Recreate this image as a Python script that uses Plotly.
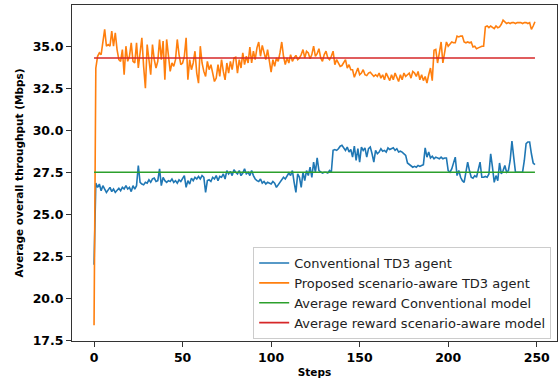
import plotly.graph_objects as go

steps = list(range(250))

conventional = [
    22.0, 26.85, 26.6, 26.8, 26.4, 26.7, 26.5, 26.3, 26.45, 26.6,
    26.35, 26.5, 26.3, 26.45, 26.55, 26.4, 26.6, 26.5, 26.7, 26.5,
    26.6, 26.35, 26.7, 26.5, 26.7, 27.9, 26.9, 26.8, 26.75, 26.9,
    26.85, 27.05, 26.9, 27.1, 27.15, 26.95, 27.0, 27.7, 26.7, 27.2,
    27.0, 26.9, 27.0, 26.95, 27.1, 26.9, 27.0, 26.85, 27.05, 26.95,
    27.1, 27.3, 26.6, 27.0, 26.8, 27.15, 27.0, 27.2, 27.1, 27.25,
    27.1, 27.3, 27.2, 26.3, 27.0, 27.05, 26.95, 27.2, 27.1, 27.3,
    27.0, 27.25, 27.2, 27.4, 27.1, 27.6, 27.4, 27.55, 27.3, 27.65,
    27.5, 27.4, 27.6, 27.3, 27.45, 27.7, 27.4, 27.5, 27.3, 27.6,
    27.3, 27.1, 27.0, 26.95, 27.1, 26.85, 26.95, 26.8, 26.9, 26.85,
    26.8, 26.95, 26.85, 26.6, 26.75, 26.9, 27.05, 27.2, 27.1, 27.3,
    27.45, 27.3, 27.6, 26.9, 26.3, 27.4, 27.2, 26.6, 27.5, 27.0,
    27.6, 27.3, 27.8, 27.2, 28.1, 27.5, 28.35, 27.6, 27.5, 27.45,
    27.5, 27.5, 27.45, 27.6, 27.5, 28.8, 28.85, 28.8, 28.9, 29.05,
    29.1, 28.95, 28.8, 29.0, 28.7, 28.85, 28.4, 29.05, 28.2, 28.9,
    28.1, 29.0, 28.8, 28.95, 28.4, 28.9, 29.0, 28.6, 28.1, 28.8,
    28.6, 28.7, 28.9, 28.75, 28.8, 28.7, 28.95, 28.85, 28.9, 28.95,
    28.8, 28.9, 28.7, 28.75, 28.7, 28.6, 28.5, 28.05, 27.95, 27.85,
    27.8, 27.85, 27.8, 27.9, 27.85, 27.9, 27.95, 28.95, 28.4, 28.7,
    28.35, 28.45, 28.3, 28.4, 28.35, 28.3, 28.4, 28.3, 28.35, 28.35,
    27.6, 27.5, 27.7, 28.0, 28.4, 27.3, 27.6, 27.2, 27.0, 26.9,
    27.4, 28.1, 27.6, 27.2, 27.15, 27.3, 27.2, 27.6, 28.1, 27.2,
    27.2, 27.25, 27.2, 27.4, 28.6, 27.8, 26.9, 27.3, 27.0, 28.05,
    27.4, 27.6, 27.9, 27.5, 27.6, 28.2, 29.35, 28.4, 27.5, 27.5,
    27.5, 27.5, 27.5, 28.2, 29.2, 29.3, 29.3, 28.6, 28.05, 27.95,
]

proposed = [
    18.4, 33.7, 34.4, 34.6, 34.5, 35.2, 36.0, 35.0, 35.1, 35.0,
    35.9, 35.0, 35.8, 34.8, 34.2, 34.1, 34.8, 33.3, 35.0, 34.1,
    34.4, 35.2, 34.1, 34.0, 35.2, 33.7, 34.6, 35.5, 33.8, 32.5,
    35.1, 34.0, 33.3, 35.1, 34.2, 33.7, 34.1, 35.4, 34.2, 35.3,
    33.0, 35.4, 34.3, 33.5, 34.0, 33.8, 34.2, 35.4, 34.5, 33.9,
    34.0, 34.4, 35.5, 33.0, 34.2, 33.6, 34.0, 34.7, 33.4, 32.8,
    35.0, 34.0, 33.5, 33.2, 34.1, 33.6, 33.9, 33.3, 32.9, 33.1,
    33.9, 33.2, 34.2, 33.5, 33.0, 34.0, 33.4, 34.1, 33.6, 34.3,
    34.35, 33.4, 34.2, 33.7, 34.6, 33.9, 34.4, 34.0, 34.95, 34.0,
    34.7, 34.2, 34.9, 35.25, 34.4, 35.05, 34.6, 34.2, 34.8, 34.0,
    33.45, 34.2, 33.8, 34.3, 34.1, 34.6, 35.25, 34.4, 33.9, 34.3,
    34.0, 34.5, 34.1, 34.3, 34.45, 34.2, 34.3, 34.5, 34.8, 34.3,
    34.7, 34.6, 34.25, 34.5, 35.0, 34.4, 34.55, 34.85, 34.3, 34.1,
    34.5, 34.7, 34.3, 34.2, 34.4, 34.7, 33.9, 34.2, 34.0, 33.8,
    33.85, 34.0, 34.2, 33.7, 33.9, 33.6, 33.6, 33.15, 33.5, 33.7,
    33.3, 33.4, 33.6, 33.3, 33.25, 33.4, 33.45, 33.3, 33.2, 33.3,
    33.2, 33.4, 33.1, 33.3, 33.0, 33.4, 33.2, 32.95, 33.3, 33.0,
    33.4, 33.1, 32.9, 33.3, 33.0, 33.4, 33.2, 33.3, 33.4, 33.1,
    33.5, 33.4, 33.2, 33.5, 33.0, 33.3, 32.95, 33.2, 32.8, 33.3,
    33.7, 32.95, 34.75, 34.8, 34.0, 34.6, 35.25, 34.0, 34.6, 35.25,
    35.0, 35.1, 35.25, 35.2, 35.2, 35.6, 35.55, 35.6, 35.6, 35.25,
    35.2, 35.25, 35.2, 35.25, 34.95, 35.0, 34.85, 34.9, 34.95, 35.0,
    35.0, 36.15, 36.2, 36.1, 36.2, 36.1, 36.05, 36.2, 36.1, 36.15,
    36.3, 36.55, 36.45, 36.35, 36.4, 36.35, 36.4, 36.4, 36.35, 36.4,
    36.4, 36.4, 36.35, 36.4, 36.4, 36.35, 36.4, 36.0, 36.2, 36.45,
]

avg_conventional = 27.5
avg_proposed = 34.3

names = [
    "Conventional TD3 agent",
    "Proposed scenario-aware TD3 agent",
    "Average reward Conventional model",
    "Average reward scenario-aware model",
]
colors = ["#1f77b4", "#ff7f0e", "#2ca02c", "#d62728"]

fig = go.Figure()
fig.add_trace(go.Scatter(x=steps, y=conventional, mode="lines", name=names[0],
                         line=dict(color=colors[0], width=1.6)))
fig.add_trace(go.Scatter(x=steps, y=proposed, mode="lines", name=names[1],
                         line=dict(color=colors[1], width=1.6)))
fig.add_trace(go.Scatter(x=steps, y=[avg_conventional] * len(steps), mode="lines", name=names[2],
                         line=dict(color=colors[2], width=1.6)))
fig.add_trace(go.Scatter(x=steps, y=[avg_proposed] * len(steps), mode="lines", name=names[3],
                         line=dict(color=colors[3], width=1.6)))

axis_common = dict(
    showgrid=False, zeroline=False, showline=True, mirror=True,
    linecolor="#333333", linewidth=1, ticks="outside", ticklen=5,
    tickcolor="#333333", tickwidth=1,
    tickfont=dict(family="DejaVu Sans", size=12.5, color="black", weight="bold"),
)

fig.update_layout(
    width=558, height=379,
    margin=dict(l=72, r=1, t=5, b=38),
    paper_bgcolor="white", plot_bgcolor="white",
    font=dict(family="DejaVu Sans", color="black"),
    xaxis=dict(range=[-12.45, 261.45], tickvals=[0, 50, 100, 150, 200, 250],
               title=dict(text="Steps", font=dict(size=10.5, weight="bold"), standoff=4),
               **axis_common),
    yaxis=dict(range=[17.46, 37.45], tickvals=[17.5, 20, 22.5, 25, 27.5, 30, 32.5, 35],
               ticktext=["17.5", "20.0", "22.5", "25.0", "27.5", "30.0", "32.5", "35.0"],
               title=dict(text="Average overall throughput (Mbps)", font=dict(size=10.5, weight="bold"), standoff=6),
               **axis_common),
    legend=dict(x=0.988, y=0.006, xanchor="right", yanchor="bottom",
                bgcolor="rgba(255,255,255,0.85)", bordercolor="#cccccc", borderwidth=1,
                font=dict(family="DejaVu Sans", size=13, color="#222222"),
                itemwidth=30, tracegroupgap=0),
    showlegend=True,
)

fig.write_html("out.html")
